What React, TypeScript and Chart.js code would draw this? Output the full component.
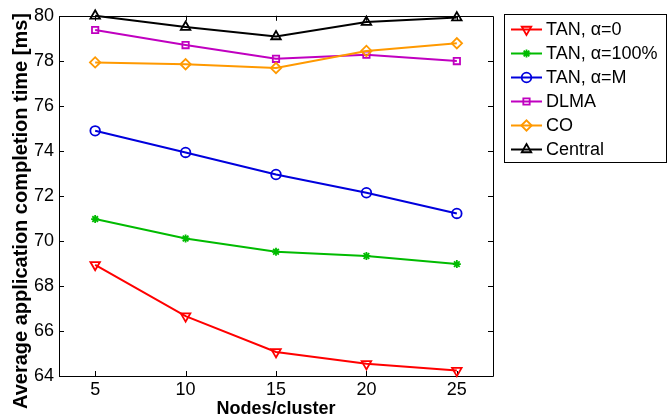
import React, { useEffect, useRef } from 'react';
import { Chart, registerables } from 'chart.js';

Chart.register(...registerables);

// ---------- data ----------
const nodesPerCluster = [5, 10, 15, 20, 25];
const xTicks = [5, 10, 15, 20, 25];
const yTicks = [64, 66, 68, 70, 72, 74, 76, 78, 80];

const seriesNames = ['TAN, \u03b1=0', 'TAN, \u03b1=100%', 'TAN, \u03b1=M', 'DLMA', 'CO', 'Central'];
const tanAlpha0 = [68.94, 66.66, 65.07, 64.54, 64.24];
const tanAlpha100 = [70.97, 70.11, 69.52, 69.33, 68.97];
const tanAlphaM = [74.89, 73.93, 72.95, 72.14, 71.22];
const dlma = [79.37, 78.7, 78.09, 78.27, 77.99];
const co = [77.93, 77.85, 77.68, 78.44, 78.78];
const central = [80.0, 79.5, 79.08, 79.72, 79.92];

const xTitle = 'Nodes/cluster';
const yTitle = 'Average application completion time [ms]';

// ---------- styles ----------
const FONT = '"Liberation Sans", Arial, Helvetica, sans-serif';
const styles = [
  { color: '#ff0000', pointStyle: 'triangle', rotation: 180, radius: 5.5 },
  { color: '#00bb00', pointStyle: 'star', rotation: 0, radius: 4 },
  { color: '#0000dd', pointStyle: 'circle', rotation: 0, radius: 4.8 },
  { color: '#c000c0', pointStyle: 'rect', rotation: 0, radius: 4.5 },
  { color: '#ff9900', pointStyle: 'rectRot', rotation: 0, radius: 5.2 },
  { color: '#000000', pointStyle: 'triangle', rotation: 0, radius: 5.5 },
];
const seriesValues = [tanAlpha0, tanAlpha100, tanAlphaM, dlma, co, central];

function drawMarker(ctx: CanvasRenderingContext2D, style: string, rotation: number, r: number, x: number, y: number) {
  ctx.beginPath();
  if (style === 'triangle') {
    let rad = (rotation * Math.PI) / 180;
    ctx.moveTo(x + Math.sin(rad) * r, y - Math.cos(rad) * r);
    rad += (2 * Math.PI) / 3;
    ctx.lineTo(x + Math.sin(rad) * r, y - Math.cos(rad) * r);
    rad += (2 * Math.PI) / 3;
    ctx.lineTo(x + Math.sin(rad) * r, y - Math.cos(rad) * r);
    ctx.closePath();
  } else if (style === 'circle') {
    ctx.arc(x, y, r, 0, Math.PI * 2);
  } else if (style === 'rect') {
    const s = Math.SQRT1_2 * r;
    ctx.rect(x - s, y - s, 2 * s, 2 * s);
  } else if (style === 'rectRot') {
    ctx.moveTo(x - r, y);
    ctx.lineTo(x, y - r);
    ctx.lineTo(x + r, y);
    ctx.lineTo(x, y + r);
    ctx.closePath();
  } else if (style === 'star') {
    for (let k = 0; k < 4; k++) {
      const a = (k * Math.PI) / 4;
      ctx.moveTo(x - Math.cos(a) * r, y - Math.sin(a) * r);
      ctx.lineTo(x + Math.cos(a) * r, y + Math.sin(a) * r);
    }
  }
  ctx.stroke();
}

const framePlugin = {
  id: 'matlabFrame',
  beforeDatasetsDraw(chart: any) {
    const { ctx, chartArea } = chart;
    const { left, right, top, bottom } = chartArea;
    const xs = chart.scales.x;
    const ys = chart.scales.y;
    ctx.save();
    ctx.strokeStyle = '#000';
    ctx.lineWidth = 1;
    ctx.beginPath();
    ctx.rect(Math.round(left) + 0.5, Math.round(top) + 0.5, Math.round(right - left), Math.round(bottom - top));
    ctx.stroke();
    ctx.beginPath();
    const tl = 5;
    xTicks.forEach((v) => {
      const px = Math.round(xs.getPixelForValue(v)) + 0.5;
      ctx.moveTo(px, bottom);
      ctx.lineTo(px, bottom - tl);
      ctx.moveTo(px, top);
      ctx.lineTo(px, top + tl);
    });
    yTicks.forEach((v) => {
      const py = Math.round(ys.getPixelForValue(v)) + 0.5;
      ctx.moveTo(left, py);
      ctx.lineTo(left + tl, py);
      ctx.moveTo(right, py);
      ctx.lineTo(right - tl, py);
    });
    ctx.stroke();
    ctx.restore();
  },
  afterDraw(chart: any) {
    const { ctx } = chart;
    ctx.save();
    // axis titles
    ctx.fillStyle = '#000';
    ctx.font = `bold 18px ${FONT}`;
    ctx.textAlign = 'center';
    ctx.textBaseline = 'alphabetic';
    ctx.fillText(xTitle, 276, 414);
    ctx.save();
    ctx.translate(27, 211);
    ctx.rotate(-Math.PI / 2);
    ctx.font = `bold 20px ${FONT}`;
    ctx.fillText(yTitle, 0, 0);
    ctx.restore();

    // legend
    const bx = 504.5, by = 14.5, bw = 162, bh = 148;
    ctx.fillStyle = '#fff';
    ctx.fillRect(bx, by, bw, bh);
    ctx.strokeStyle = '#000';
    ctx.lineWidth = 1;
    ctx.strokeRect(bx, by, bw, bh);
    ctx.font = `18px ${FONT}`;
    ctx.textAlign = 'left';
    ctx.textBaseline = 'middle';
    seriesNames.forEach((name, i) => {
      const y = 29.5 + i * 24;
      const st = styles[i];
      ctx.strokeStyle = st.color;
      ctx.lineWidth = 2;
      ctx.beginPath();
      ctx.moveTo(511, y);
      ctx.lineTo(542, y);
      ctx.stroke();
      ctx.lineWidth = 1.8;
      drawMarker(ctx, st.pointStyle, st.rotation, st.radius, 526.5, y);
      ctx.fillStyle = '#000';
      ctx.fillText(name, 546, y + 1);
    });
    ctx.restore();
  },
};

export default function App() {
  const canvasRef = useRef<HTMLCanvasElement | null>(null);

  useEffect(() => {
    document.body.style.margin = '0';
    const canvas = canvasRef.current!;
    const datasets = seriesNames.map((name, i) => ({
      label: name,
      data: nodesPerCluster.map((x, j) => ({ x, y: seriesValues[i][j] })),
      borderColor: styles[i].color,
      backgroundColor: 'rgba(0,0,0,0)',
      borderWidth: 2,
      pointStyle: styles[i].pointStyle as any,
      rotation: styles[i].rotation,
      pointRadius: styles[i].radius,
      pointBorderWidth: 1.8,
      pointBorderColor: styles[i].color,
      pointBackgroundColor: 'rgba(0,0,0,0)',
      tension: 0,
      fill: false,
      clip: false as any,
      order: seriesNames.length - i,
    }));

    const chart = new Chart(canvas, {
      type: 'line',
      data: { datasets },
      options: {
        responsive: false,
        animation: false,
        devicePixelRatio: 1,
        layout: { padding: { left: 0, right: 175, top: 14, bottom: 0 } },
        plugins: { legend: { display: false }, tooltip: { enabled: false }, title: { display: false } },
        scales: {
          x: {
            type: 'linear',
            min: 3,
            max: 27,
            afterBuildTicks: (s: any) => {
              s.ticks = xTicks.map((v) => ({ value: v }));
            },
            afterFit: (s: any) => {
              s.height = 42;
            },
            grid: { display: false, drawTicks: false },
            border: { display: false },
            ticks: { color: '#000', font: { family: FONT, size: 18 }, padding: 3, maxRotation: 0, autoSkip: false },
          },
          y: {
            type: 'linear',
            min: 64,
            max: 80,
            afterBuildTicks: (s: any) => {
              s.ticks = yTicks.map((v) => ({ value: v }));
            },
            afterFit: (s: any) => {
              s.width = 59;
            },
            grid: { display: false, drawTicks: false },
            border: { display: false },
            ticks: { color: '#000', font: { family: FONT, size: 18 }, padding: 5, autoSkip: false },
          },
        },
      },
      plugins: [framePlugin],
    });
    return () => chart.destroy();
  }, []);

  return (
    <div style={{ position: 'absolute', left: 0, top: 0, width: 668, height: 418, background: '#fff' }}>
      <canvas ref={canvasRef} width={668} height={418} style={{ display: 'block' }} />
    </div>
  );
}
